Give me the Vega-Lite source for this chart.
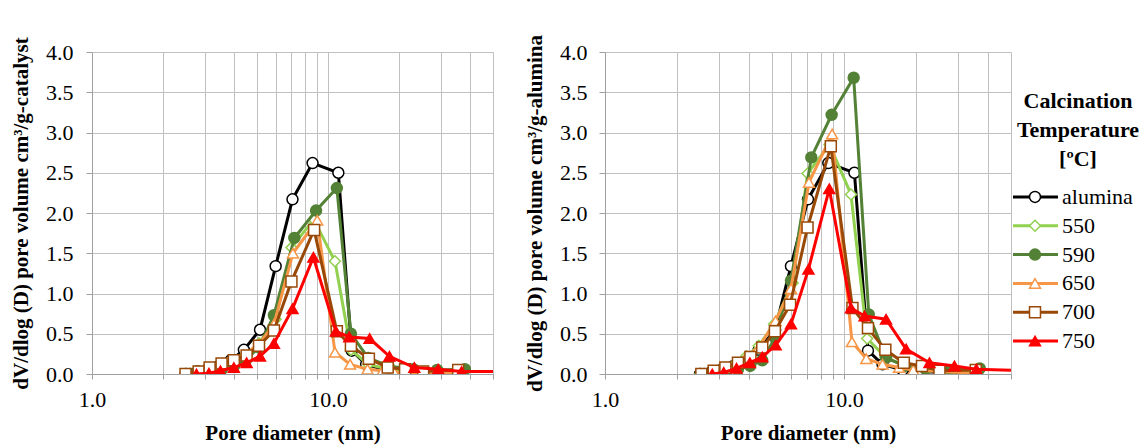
{
  "$schema": "https://vega.github.io/schema/vega-lite/v6.json",
  "padding": {"left": 10, "top": 34, "right": 0, "bottom": 0},
  "background": "white",
  "config": {
    "view": {"stroke": null},
    "font": "Liberation Serif, Times New Roman, serif",
    "line": {"strokeWidth": 3},
    "point": {"size": 120, "strokeWidth": 1.5, "opacity": 1},
    "axis": {
      "labelFont": "Liberation Serif, Times New Roman, serif", "titleFont": "Liberation Serif, Times New Roman, serif",
      "labelFontSize": 22, "titleFontSize": 21, "titleFontWeight": "bold",
      "labelColor": "#000000", "titleColor": "#000000",
      "gridColor": "#C0C0C0", "gridWidth": 1,
      "domainColor": "#A0A0A0", "tickColor": "#A0A0A0", "domainWidth": 1
    }
  },
  "datasets": {
    "pts": [
      {"p":"c","s":"alumina","d":2.5,"v":0.0},{"p":"c","s":"alumina","d":2.8,"v":0.03},{"p":"c","s":"alumina","d":3.1,"v":0.06},{"p":"c","s":"alumina","d":3.45,"v":0.10},{"p":"c","s":"alumina","d":3.87,"v":0.17},{"p":"c","s":"alumina","d":4.4,"v":0.30},{"p":"c","s":"alumina","d":5.15,"v":0.55},{"p":"c","s":"alumina","d":6.0,"v":1.34},{"p":"c","s":"alumina","d":7.07,"v":2.17},{"p":"c","s":"alumina","d":8.6,"v":2.62},{"p":"c","s":"alumina","d":11.06,"v":2.50},{"p":"c","s":"alumina","d":12.6,"v":0.29},{"p":"c","s":"alumina","d":14.5,"v":0.12},{"p":"c","s":"alumina","d":17.6,"v":0.05},{"p":"c","s":"alumina","d":21.1,"v":0.03},{"p":"c","s":"alumina","d":26,"v":0.02},{"p":"c","s":"alumina","d":36,"v":0.01},
      {"p":"c","s":"550","d":2.5,"v":0.0},{"p":"c","s":"550","d":2.8,"v":0.02},{"p":"c","s":"550","d":3.1,"v":0.05},{"p":"c","s":"550","d":3.45,"v":0.09},{"p":"c","s":"550","d":3.9,"v":0.15},{"p":"c","s":"550","d":4.4,"v":0.22},{"p":"c","s":"550","d":5.1,"v":0.38},{"p":"c","s":"550","d":6.0,"v":0.68},{"p":"c","s":"550","d":7.0,"v":1.57},{"p":"c","s":"550","d":8.7,"v":1.92},{"p":"c","s":"550","d":10.7,"v":1.40},{"p":"c","s":"550","d":12.5,"v":0.30},{"p":"c","s":"550","d":14.8,"v":0.12},{"p":"c","s":"550","d":18,"v":0.06},{"p":"c","s":"550","d":23,"v":0.03},{"p":"c","s":"550","d":29,"v":0.02},{"p":"c","s":"550","d":37,"v":0.02},
      {"p":"c","s":"590","d":2.6,"v":0.0},{"p":"c","s":"590","d":2.9,"v":0.01},{"p":"c","s":"590","d":3.2,"v":0.03},{"p":"c","s":"590","d":3.55,"v":0.06},{"p":"c","s":"590","d":4.0,"v":0.10},{"p":"c","s":"590","d":4.5,"v":0.18},{"p":"c","s":"590","d":5.1,"v":0.33},{"p":"c","s":"590","d":5.9,"v":0.73},{"p":"c","s":"590","d":7.2,"v":1.69},{"p":"c","s":"590","d":8.9,"v":2.03},{"p":"c","s":"590","d":10.9,"v":2.31},{"p":"c","s":"590","d":12.5,"v":0.50},{"p":"c","s":"590","d":14.8,"v":0.20},{"p":"c","s":"590","d":18,"v":0.10},{"p":"c","s":"590","d":23,"v":0.06},{"p":"c","s":"590","d":29,"v":0.05},{"p":"c","s":"590","d":38,"v":0.06},
      {"p":"c","s":"650","d":2.5,"v":0.0},{"p":"c","s":"650","d":2.8,"v":0.03},{"p":"c","s":"650","d":3.1,"v":0.07},{"p":"c","s":"650","d":3.5,"v":0.12},{"p":"c","s":"650","d":3.9,"v":0.17},{"p":"c","s":"650","d":4.4,"v":0.24},{"p":"c","s":"650","d":5.1,"v":0.37},{"p":"c","s":"650","d":5.9,"v":0.62},{"p":"c","s":"650","d":7.1,"v":1.50},{"p":"c","s":"650","d":9.0,"v":1.91},{"p":"c","s":"650","d":10.7,"v":0.27},{"p":"c","s":"650","d":12.4,"v":0.12},{"p":"c","s":"650","d":14.7,"v":0.06},{"p":"c","s":"650","d":17,"v":0.04},{"p":"c","s":"650","d":19.1,"v":0.02},{"p":"c","s":"650","d":25,"v":0.02},{"p":"c","s":"650","d":36,"v":0.02},
      {"p":"c","s":"700","d":2.49,"v":0.0},{"p":"c","s":"700","d":2.83,"v":0.03},{"p":"c","s":"700","d":3.15,"v":0.08},{"p":"c","s":"700","d":3.54,"v":0.13},{"p":"c","s":"700","d":3.99,"v":0.17},{"p":"c","s":"700","d":4.52,"v":0.23},{"p":"c","s":"700","d":5.1,"v":0.35},{"p":"c","s":"700","d":5.9,"v":0.54},{"p":"c","s":"700","d":7.0,"v":1.15},{"p":"c","s":"700","d":8.73,"v":1.79},{"p":"c","s":"700","d":10.9,"v":0.53},{"p":"c","s":"700","d":12.5,"v":0.35},{"p":"c","s":"700","d":14.9,"v":0.19},{"p":"c","s":"700","d":17.9,"v":0.08},{"p":"c","s":"700","d":21.2,"v":0.06},{"p":"c","s":"700","d":25.3,"v":0.03},{"p":"c","s":"700","d":35.6,"v":0.05},
      {"p":"c","s":"750","d":2.77,"v":0.0},{"p":"c","s":"750","d":3.13,"v":0.01},{"p":"c","s":"750","d":3.5,"v":0.04},{"p":"c","s":"750","d":3.99,"v":0.08},{"p":"c","s":"750","d":4.52,"v":0.14},{"p":"c","s":"750","d":5.15,"v":0.22},{"p":"c","s":"750","d":5.9,"v":0.38},{"p":"c","s":"750","d":7.07,"v":0.81},{"p":"c","s":"750","d":8.67,"v":1.45},{"p":"c","s":"750","d":10.8,"v":0.53},{"p":"c","s":"750","d":12.3,"v":0.46},{"p":"c","s":"750","d":15.0,"v":0.44},{"p":"c","s":"750","d":18.2,"v":0.22},{"p":"c","s":"750","d":23.2,"v":0.08},{"p":"c","s":"750","d":29.3,"v":0.06},{"p":"c","s":"750","d":36.8,"v":0.03},{"p":"c","s":"750","d":60,"v":0.03},
      {"p":"a","s":"alumina","d":2.5,"v":0.0},{"p":"a","s":"alumina","d":2.8,"v":0.03},{"p":"a","s":"alumina","d":3.1,"v":0.06},{"p":"a","s":"alumina","d":3.45,"v":0.10},{"p":"a","s":"alumina","d":3.87,"v":0.17},{"p":"a","s":"alumina","d":4.4,"v":0.30},{"p":"a","s":"alumina","d":5.15,"v":0.55},{"p":"a","s":"alumina","d":6.0,"v":1.34},{"p":"a","s":"alumina","d":7.07,"v":2.17},{"p":"a","s":"alumina","d":8.6,"v":2.62},{"p":"a","s":"alumina","d":11.06,"v":2.50},{"p":"a","s":"alumina","d":12.6,"v":0.29},{"p":"a","s":"alumina","d":14.5,"v":0.12},{"p":"a","s":"alumina","d":17.6,"v":0.05},{"p":"a","s":"alumina","d":21.1,"v":0.03},{"p":"a","s":"alumina","d":26,"v":0.02},{"p":"a","s":"alumina","d":36,"v":0.01},
      {"p":"a","s":"550","d":2.5,"v":0.0},{"p":"a","s":"550","d":2.8,"v":0.03},{"p":"a","s":"550","d":3.1,"v":0.07},{"p":"a","s":"550","d":3.5,"v":0.13},{"p":"a","s":"550","d":3.9,"v":0.22},{"p":"a","s":"550","d":4.4,"v":0.35},{"p":"a","s":"550","d":5.1,"v":0.62},{"p":"a","s":"550","d":6.1,"v":1.13},{"p":"a","s":"550","d":7.04,"v":2.49},{"p":"a","s":"550","d":8.7,"v":2.85},{"p":"a","s":"550","d":10.7,"v":2.23},{"p":"a","s":"550","d":12.5,"v":0.44},{"p":"a","s":"550","d":14.9,"v":0.21},{"p":"a","s":"550","d":18,"v":0.10},{"p":"a","s":"550","d":22,"v":0.05},{"p":"a","s":"550","d":28,"v":0.03},{"p":"a","s":"550","d":36,"v":0.02},
      {"p":"a","s":"590","d":2.6,"v":0.0},{"p":"a","s":"590","d":2.9,"v":0.01},{"p":"a","s":"590","d":3.2,"v":0.03},{"p":"a","s":"590","d":3.6,"v":0.06},{"p":"a","s":"590","d":4.05,"v":0.10},{"p":"a","s":"590","d":4.55,"v":0.17},{"p":"a","s":"590","d":5.15,"v":0.45},{"p":"a","s":"590","d":6.0,"v":1.16},{"p":"a","s":"590","d":7.3,"v":2.69},{"p":"a","s":"590","d":8.88,"v":3.22},{"p":"a","s":"590","d":10.98,"v":3.68},{"p":"a","s":"590","d":12.7,"v":0.74},{"p":"a","s":"590","d":15.0,"v":0.20},{"p":"a","s":"590","d":18,"v":0.10},{"p":"a","s":"590","d":22,"v":0.06},{"p":"a","s":"590","d":28,"v":0.05},{"p":"a","s":"590","d":37,"v":0.07},
      {"p":"a","s":"650","d":2.5,"v":0.0},{"p":"a","s":"650","d":2.8,"v":0.03},{"p":"a","s":"650","d":3.1,"v":0.07},{"p":"a","s":"650","d":3.5,"v":0.13},{"p":"a","s":"650","d":3.9,"v":0.22},{"p":"a","s":"650","d":4.4,"v":0.33},{"p":"a","s":"650","d":5.17,"v":0.66},{"p":"a","s":"650","d":6.0,"v":1.06},{"p":"a","s":"650","d":7.14,"v":2.38},{"p":"a","s":"650","d":8.92,"v":2.98},{"p":"a","s":"650","d":10.8,"v":0.40},{"p":"a","s":"650","d":12.4,"v":0.19},{"p":"a","s":"650","d":14.5,"v":0.12},{"p":"a","s":"650","d":17,"v":0.08},{"p":"a","s":"650","d":19.5,"v":0.05},{"p":"a","s":"650","d":25,"v":0.03},{"p":"a","s":"650","d":36,"v":0.01},
      {"p":"a","s":"700","d":2.53,"v":0.0},{"p":"a","s":"700","d":2.85,"v":0.04},{"p":"a","s":"700","d":3.19,"v":0.08},{"p":"a","s":"700","d":3.6,"v":0.14},{"p":"a","s":"700","d":4.06,"v":0.21},{"p":"a","s":"700","d":4.55,"v":0.33},{"p":"a","s":"700","d":5.14,"v":0.53},{"p":"a","s":"700","d":5.95,"v":0.86},{"p":"a","s":"700","d":7.04,"v":1.82},{"p":"a","s":"700","d":8.81,"v":2.83},{"p":"a","s":"700","d":10.85,"v":0.82},{"p":"a","s":"700","d":12.6,"v":0.57},{"p":"a","s":"700","d":14.9,"v":0.30},{"p":"a","s":"700","d":17.8,"v":0.14},{"p":"a","s":"700","d":21.2,"v":0.10},{"p":"a","s":"700","d":25.1,"v":0.04},{"p":"a","s":"700","d":35.6,"v":0.05},
      {"p":"a","s":"750","d":2.81,"v":0.0},{"p":"a","s":"750","d":3.14,"v":0.02},{"p":"a","s":"750","d":3.55,"v":0.07},{"p":"a","s":"750","d":4.04,"v":0.14},{"p":"a","s":"750","d":4.55,"v":0.21},{"p":"a","s":"750","d":5.18,"v":0.36},{"p":"a","s":"750","d":6.0,"v":0.62},{"p":"a","s":"750","d":7.1,"v":1.30},{"p":"a","s":"750","d":8.68,"v":2.30},{"p":"a","s":"750","d":10.7,"v":0.82},{"p":"a","s":"750","d":12.2,"v":0.72},{"p":"a","s":"750","d":15.0,"v":0.68},{"p":"a","s":"750","d":18.2,"v":0.31},{"p":"a","s":"750","d":22.8,"v":0.14},{"p":"a","s":"750","d":29.0,"v":0.10},{"p":"a","s":"750","d":35.8,"v":0.06},{"p":"a","s":"750","d":60,"v":0.04}
    ],
    "leg": [{"s":"alumina","i":0},{"s":"550","i":1},{"s":"590","i":2},{"s":"650","i":3},{"s":"700","i":4},{"s":"750","i":5}]
  },
  "bounds": "flush",
  "spacing": 112,
  "hconcat": [
    {
      "width": 401, "height": 322,
      "data": {"name": "pts"},
      "transform": [{"filter": "datum.p == 'c'"}],
      "encoding": {
        "x": {"field": "d", "type": "quantitative", "scale": {"type": "log", "domain": [1, 50], "nice": false},
              "axis": {"values": [1,2,3,4,5,6,7,8,9,10,20,30,40,50], "labelExpr": "datum.value == 1 || datum.value == 10 ? format(datum.value, '.1f') : ''", "title": "Pore diameter (nm)", "tickSize": 5, "labelPadding": 10, "titlePadding": 12, "labelFlush": false, "labelOverlap": false, "grid": true}},
        "y": {"field": "v", "type": "quantitative", "scale": {"domain": [0, 4], "nice": false},
              "axis": {"values": [0,0.5,1,1.5,2,2.5,3,3.5,4], "format": ".1f", "title": "dV/dlog (D) pore volume cm³/g-catalyst", "tickSize": 6, "labelPadding": 13, "titlePadding": 14, "labelFlush": false, "grid": true}}
      },
      "layer": [
        {"transform": [{"filter": "datum.s == 'alumina'"}], "layer": [
          {"mark": {"type": "line", "color": "#000000", "clip": true}, "encoding": {}},
          {"mark": {"type": "point", "shape": "circle", "fill": "#FFFFFF", "stroke": "#000000", "clip": true}}]},
        {"transform": [{"filter": "datum.s == '550'"}], "layer": [
          {"mark": {"type": "line", "color": "#92D050", "clip": true}, "encoding": {}},
          {"mark": {"type": "point", "shape": "diamond", "fill": "#FFFFFF", "stroke": "#92D050", "clip": true}}]},
        {"transform": [{"filter": "datum.s == '590'"}], "layer": [
          {"mark": {"type": "line", "color": "#538135", "clip": true}, "encoding": {}},
          {"mark": {"type": "point", "shape": "circle", "fill": "#538135", "stroke": "#538135", "clip": true}}]},
        {"transform": [{"filter": "datum.s == '650'"}], "layer": [
          {"mark": {"type": "line", "color": "#F79646", "clip": true}, "encoding": {}},
          {"mark": {"type": "point", "shape": "triangle-up", "fill": "#FFFFFF", "stroke": "#F79646", "clip": true}}]},
        {"transform": [{"filter": "datum.s == '700'"}], "layer": [
          {"mark": {"type": "line", "color": "#984807", "clip": true}, "encoding": {}},
          {"mark": {"type": "point", "shape": "square", "fill": "#FFFFFF", "stroke": "#984807", "clip": true}}]},
        {"transform": [{"filter": "datum.s == '750'"}], "layer": [
          {"mark": {"type": "line", "color": "#FF0000", "clip": true}, "encoding": {}},
          {"mark": {"type": "point", "shape": "triangle-up", "fill": "#FF0000", "stroke": "#FF0000", "clip": true}}]}
      ]
    },
    {
      "bounds": "flush",
      "spacing": 2,
      "hconcat": [
        {
          "width": 406, "height": 322,
          "data": {"name": "pts"},
          "transform": [{"filter": "datum.p == 'a'"}],
          "encoding": {
            "x": {"field": "d", "type": "quantitative", "scale": {"type": "log", "domain": [1, 50], "nice": false},
                  "axis": {"values": [1,2,3,4,5,6,7,8,9,10,20,30,40,50], "labelExpr": "datum.value == 1 || datum.value == 10 ? format(datum.value, '.1f') : ''", "title": "Pore diameter (nm)", "tickSize": 5, "labelPadding": 10, "titlePadding": 12, "labelFlush": false, "labelOverlap": false, "grid": true}},
            "y": {"field": "v", "type": "quantitative", "scale": {"domain": [0, 4], "nice": false},
                  "axis": {"values": [0,0.5,1,1.5,2,2.5,3,3.5,4], "format": ".1f", "title": "dV/dlog (D) pore volume cm³/g-alumina", "tickSize": 6, "labelPadding": 12, "titlePadding": 14, "labelFlush": false, "grid": true}}
          },
          "layer": [
            {"transform": [{"filter": "datum.s == 'alumina'"}], "layer": [
              {"mark": {"type": "line", "color": "#000000", "clip": true}, "encoding": {}},
              {"mark": {"type": "point", "shape": "circle", "fill": "#FFFFFF", "stroke": "#000000", "clip": true}}]},
            {"transform": [{"filter": "datum.s == '550'"}], "layer": [
              {"mark": {"type": "line", "color": "#92D050", "clip": true}, "encoding": {}},
              {"mark": {"type": "point", "shape": "diamond", "fill": "#FFFFFF", "stroke": "#92D050", "clip": true}}]},
            {"transform": [{"filter": "datum.s == '590'"}], "layer": [
              {"mark": {"type": "line", "color": "#538135", "clip": true}, "encoding": {}},
              {"mark": {"type": "point", "shape": "circle", "fill": "#538135", "stroke": "#538135", "clip": true}}]},
            {"transform": [{"filter": "datum.s == '650'"}], "layer": [
              {"mark": {"type": "line", "color": "#F79646", "clip": true}, "encoding": {}},
              {"mark": {"type": "point", "shape": "triangle-up", "fill": "#FFFFFF", "stroke": "#F79646", "clip": true}}]},
            {"transform": [{"filter": "datum.s == '700'"}], "layer": [
              {"mark": {"type": "line", "color": "#984807", "clip": true}, "encoding": {}},
              {"mark": {"type": "point", "shape": "square", "fill": "#FFFFFF", "stroke": "#984807", "clip": true}}]},
            {"transform": [{"filter": "datum.s == '750'"}], "layer": [
              {"mark": {"type": "line", "color": "#FF0000", "clip": true}, "encoding": {}},
              {"mark": {"type": "point", "shape": "triangle-up", "fill": "#FF0000", "stroke": "#FF0000", "clip": true}}]}
          ]
        },
        {
          "width": 131, "height": 434,
          "data": {"name": "leg"},
          "layer": [
            {
              "mark": {"type": "rule", "strokeWidth": 3},
              "encoding": {
                "x": {"datum": 0, "type": "quantitative", "scale": {"domain": [0, 131], "nice": false, "zero": false}, "axis": null},
                "x2": {"datum": 45},
                "y": {"field": "i", "type": "quantitative", "scale": {"domain": [-5.03, 10.03], "reverse": true, "nice": false, "zero": false}, "axis": null},
                "color": {"field": "s", "type": "nominal", "scale": {"domain": ["alumina","550","590","650","700","750"], "range": ["#000000","#92D050","#538135","#F79646","#984807","#FF0000"]}, "legend": null}
              }
            },
            {
              "mark": {"type": "point"},
              "encoding": {
                "x": {"datum": 22, "type": "quantitative"},
                "y": {"field": "i", "type": "quantitative"},
                "shape": {"field": "s", "type": "nominal", "scale": {"domain": ["alumina","550","590","650","700","750"], "range": ["circle","diamond","circle","triangle-up","square","triangle-up"]}, "legend": null},
                "fill": {"field": "s", "type": "nominal", "scale": {"domain": ["alumina","550","590","650","700","750"], "range": ["#FFFFFF","#FFFFFF","#538135","#FFFFFF","#FFFFFF","#FF0000"]}, "legend": null},
                "stroke": {"field": "s", "type": "nominal", "scale": {"domain": ["alumina","550","590","650","700","750"], "range": ["#000000","#92D050","#538135","#F79646","#984807","#FF0000"]}, "legend": null}
              }
            },
            {
              "mark": {"type": "text", "align": "left", "baseline": "middle", "fontSize": 22, "font": "Liberation Serif, Times New Roman, serif", "color": "#000000"},
              "encoding": {
                "x": {"datum": 49, "type": "quantitative"},
                "y": {"field": "i", "type": "quantitative"},
                "text": {"field": "s"}
              }
            },
            {
              "data": {"values": [{"t": 1}]},
              "mark": {"type": "text", "align": "center", "baseline": "middle", "fontSize": 22, "fontWeight": "bold", "font": "Liberation Serif, Times New Roman, serif", "lineHeight": 29, "color": "#000000", "text": ["Calcination", "Temperature", "[ºC]"]},
              "encoding": {
                "x": {"datum": 65, "type": "quantitative"},
                "y": {"datum": -3.33, "type": "quantitative"}
              }
            }
          ]
        }
      ]
    }
  ]
}
